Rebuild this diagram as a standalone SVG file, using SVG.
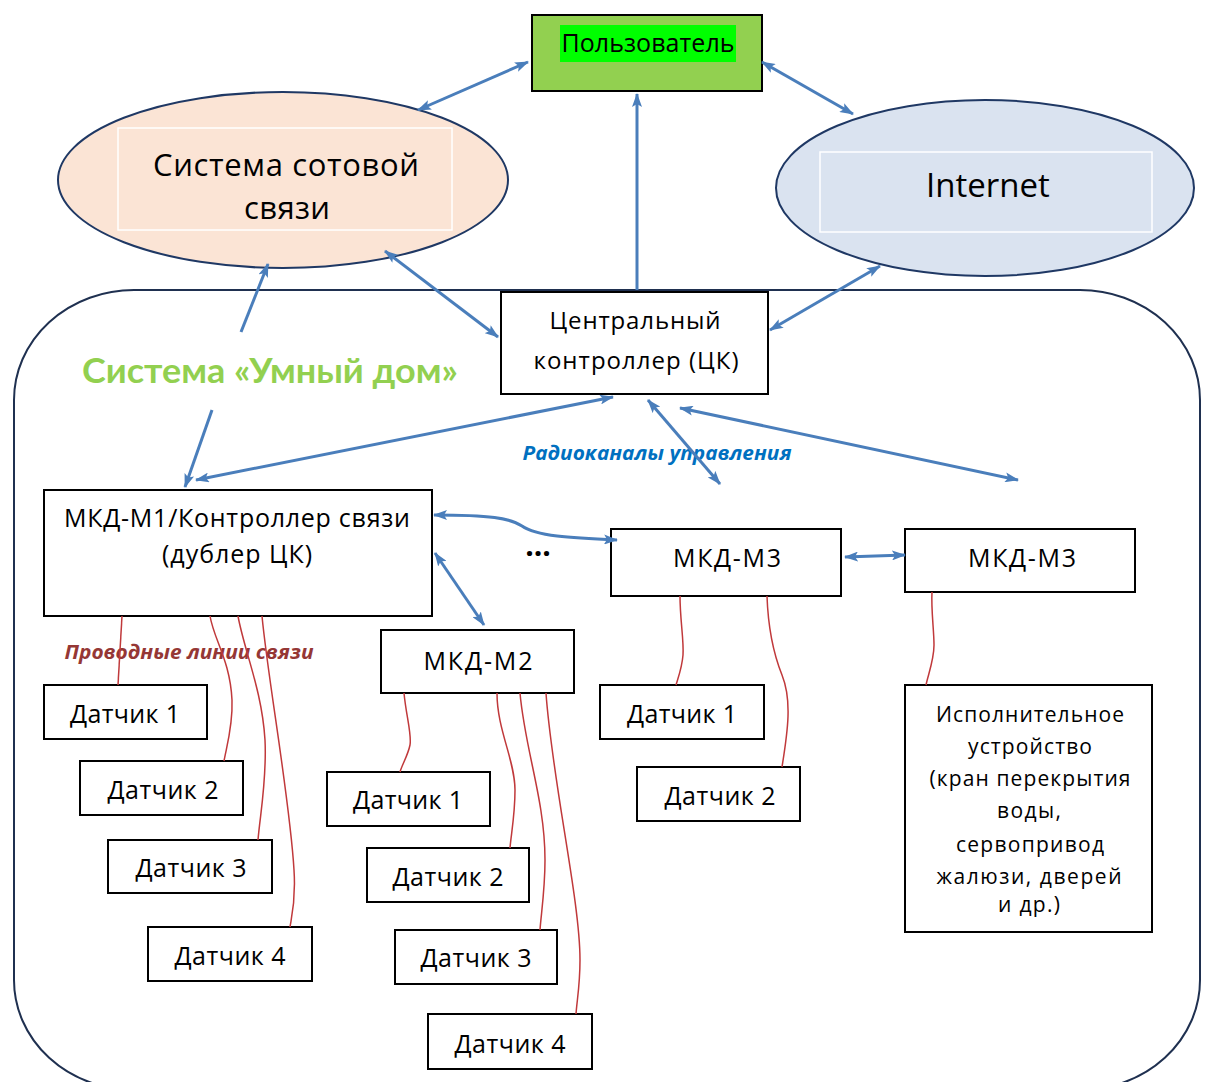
<svg xmlns="http://www.w3.org/2000/svg" width="1211" height="1082" viewBox="0 0 1211 1082">
  <style>
    .t { font-family: "Open Sans", "Noto Sans", "DejaVu Sans", sans-serif; fill: #000; text-anchor: middle; }
    .box { fill: #fff; stroke: #000; stroke-width: 2; }
    .link { fill: none; stroke: #4a7ebb; stroke-width: 3; }
    .wire { fill: none; stroke: #c0393b; stroke-width: 1.5; }
  </style>
  <defs>
    <marker id="ah" viewBox="0 0 14 10" refX="13" refY="5" markerWidth="14" markerHeight="10" markerUnits="userSpaceOnUse" orient="auto-start-reverse">
      <path d="M0,0 L14,5 L0,10 L3,5 Z" fill="#4a7ebb"/>
    </marker>
  </defs>

  <rect width="1211" height="1082" fill="#fff"/>

  <!-- outer boundary of the smart home system -->
  <g id="smart-home-area">
    <rect x="14" y="290" width="1186" height="800" rx="120" ry="110" fill="none" stroke="#1f3050" stroke-width="2"/>
  </g>

  <!-- user -->
  <g id="user">
    <rect x="532" y="15" width="230" height="76" fill="#92d050" stroke="#000" stroke-width="2"/>
    <rect x="560" y="25" width="176" height="37" fill="#00ff00"/>
    <text class="t" x="648" y="52" font-size="25" textLength="173" lengthAdjust="spacing">Пользователь</text>
  </g>

  <!-- cellular network -->
  <g id="cellular">
    <ellipse cx="283" cy="180" rx="225" ry="88" fill="#fbe4d5" stroke="#1f3864" stroke-width="2"/>
    <rect x="118" y="128" width="334" height="102" fill="none" stroke="#fff" stroke-width="1.5"/>
    <text class="t" x="286" y="176" font-size="31" textLength="266" lengthAdjust="spacing">Система сотовой</text>
    <text class="t" x="287" y="219" font-size="31" textLength="86" lengthAdjust="spacing">связи</text>
  </g>

  <!-- internet -->
  <g id="internet">
    <ellipse cx="985" cy="188" rx="209" ry="88" fill="#dae3f0" stroke="#1f3864" stroke-width="2"/>
    <rect x="820" y="152" width="332" height="80" fill="none" stroke="#fff" stroke-width="1.5"/>
    <text class="t" x="988" y="197" font-size="33">Internet</text>
  </g>

  <!-- central controller -->
  <g id="central-controller">
    <rect class="box" x="501" y="292" width="267" height="102"/>
    <text class="t" x="635" y="329" font-size="24" textLength="171" lengthAdjust="spacing">Центральный</text>
    <text class="t" x="636" y="369" font-size="24" textLength="205" lengthAdjust="spacing">контроллер (ЦК)</text>
  </g>

  <!-- system caption -->
  <g id="smart-home-label">
    <text x="270" y="383" font-family="Lato, 'Open Sans', sans-serif" font-weight="bold" font-size="34" fill="#92d050" text-anchor="middle" textLength="376" lengthAdjust="spacingAndGlyphs">Система «Умный дом»</text>
  </g>

  <g id="radio-label">
    <text x="657" y="460" font-family="'Open Sans', sans-serif" font-weight="bold" font-style="italic" font-size="20" fill="#0070c0" text-anchor="middle" textLength="269" lengthAdjust="spacingAndGlyphs">Радиоканалы управления</text>
  </g>

  <g id="wired-label">
    <text x="189" y="659" font-family="'Open Sans', sans-serif" font-weight="bold" font-style="italic" font-size="20" fill="#953735" text-anchor="middle" textLength="249" lengthAdjust="spacingAndGlyphs">Проводные линии связи</text>
  </g>

  <!-- module M1 / communication controller -->
  <g id="mkd-m1">
    <rect class="box" x="44" y="490" width="388" height="126"/>
    <text class="t" x="237" y="527" font-size="25" textLength="346" lengthAdjust="spacing">МКД-М1/Контроллер связи</text>
    <text class="t" x="237" y="563" font-size="25" textLength="150" lengthAdjust="spacing">(дублер ЦК)</text>
  </g>

  <g id="ellipsis">
    <text x="538" y="556" font-family="'Open Sans', sans-serif" font-weight="bold" font-size="30" fill="#000" text-anchor="middle">...</text>
  </g>

  <g id="mkd-m3-a">
    <rect class="box" x="611" y="529" width="230" height="67"/>
    <text class="t" x="727" y="567" font-size="25" textLength="108" lengthAdjust="spacing">МКД-М3</text>
  </g>

  <g id="mkd-m3-b">
    <rect class="box" x="905" y="529" width="230" height="63"/>
    <text class="t" x="1022" y="567" font-size="25" textLength="108" lengthAdjust="spacing">МКД-М3</text>
  </g>

  <g id="mkd-m2">
    <rect class="box" x="381" y="630" width="193" height="63"/>
    <text class="t" x="478" y="670" font-size="25" textLength="109" lengthAdjust="spacing">МКД-М2</text>
  </g>

  <!-- sensors of M1 -->
  <g id="m1-sensor-1"><rect class="box" x="44" y="685" width="163" height="54"/><text class="t" x="125" y="723" font-size="25" textLength="110" lengthAdjust="spacing">Датчик 1</text></g>
  <g id="m1-sensor-2"><rect class="box" x="80" y="761" width="163" height="54"/><text class="t" x="163" y="799" font-size="25" textLength="111" lengthAdjust="spacing">Датчик 2</text></g>
  <g id="m1-sensor-3"><rect class="box" x="108" y="840" width="164" height="53"/><text class="t" x="191" y="877" font-size="25" textLength="111" lengthAdjust="spacing">Датчик 3</text></g>
  <g id="m1-sensor-4"><rect class="box" x="148" y="927" width="164" height="54"/><text class="t" x="230" y="965" font-size="25" textLength="111" lengthAdjust="spacing">Датчик 4</text></g>

  <!-- sensors of M2 -->
  <g id="m2-sensor-1"><rect class="box" x="327" y="772" width="163" height="54"/><text class="t" x="408" y="809" font-size="25" textLength="110" lengthAdjust="spacing">Датчик 1</text></g>
  <g id="m2-sensor-2"><rect class="box" x="367" y="848" width="162" height="54"/><text class="t" x="448" y="886" font-size="25" textLength="111" lengthAdjust="spacing">Датчик 2</text></g>
  <g id="m2-sensor-3"><rect class="box" x="395" y="930" width="162" height="54"/><text class="t" x="476" y="967" font-size="25" textLength="111" lengthAdjust="spacing">Датчик 3</text></g>
  <g id="m2-sensor-4"><rect class="box" x="428" y="1014" width="164" height="55"/><text class="t" x="510" y="1053" font-size="25" textLength="111" lengthAdjust="spacing">Датчик 4</text></g>

  <!-- sensors of M3 -->
  <g id="m3-sensor-1"><rect class="box" x="600" y="685" width="164" height="54"/><text class="t" x="682" y="723" font-size="25" textLength="110" lengthAdjust="spacing">Датчик 1</text></g>
  <g id="m3-sensor-2"><rect class="box" x="637" y="767" width="163" height="54"/><text class="t" x="720" y="805" font-size="25" textLength="111" lengthAdjust="spacing">Датчик 2</text></g>

  <!-- actuator -->
  <g id="actuator">
    <rect class="box" x="905" y="685" width="247" height="247"/>
    <text class="t" x="1030" y="722" font-size="21" textLength="188" lengthAdjust="spacing">Исполнительное</text>
    <text class="t" x="1030" y="754" font-size="21" textLength="124" lengthAdjust="spacing">устройство</text>
    <text class="t" x="1030" y="786" font-size="21" textLength="201" lengthAdjust="spacing">(кран перекрытия</text>
    <text class="t" x="1029" y="818" font-size="21" textLength="64" lengthAdjust="spacing">воды,</text>
    <text class="t" x="1030" y="852" font-size="21" textLength="148" lengthAdjust="spacing">сервопривод</text>
    <text class="t" x="1029" y="884" font-size="21" textLength="185" lengthAdjust="spacing">жалюзи, дверей</text>
    <text class="t" x="1029" y="912" font-size="21" textLength="62" lengthAdjust="spacing">и др.)</text>
  </g>

  <!-- connectors -->
  <g id="connectors">
    <!-- radio / network links -->
    <line class="link" x1="418" y1="110" x2="528" y2="62" marker-start="url(#ah)" marker-end="url(#ah)"/>
    <line class="link" x1="762" y1="62" x2="853" y2="114" marker-start="url(#ah)" marker-end="url(#ah)"/>
    <line class="link" x1="637" y1="290" x2="637" y2="94" marker-end="url(#ah)"/>
    <line class="link" x1="385" y1="251" x2="498" y2="337" marker-start="url(#ah)" marker-end="url(#ah)"/>
    <line class="link" x1="880" y1="266" x2="770" y2="330" marker-start="url(#ah)" marker-end="url(#ah)"/>
    <line class="link" x1="241" y1="332" x2="268" y2="264" marker-end="url(#ah)"/>
    <line class="link" x1="212" y1="410" x2="185" y2="487" marker-end="url(#ah)"/>
    <line class="link" x1="613" y1="397" x2="196" y2="480" marker-start="url(#ah)" marker-end="url(#ah)"/>
    <line class="link" x1="648" y1="400" x2="720" y2="484" marker-start="url(#ah)" marker-end="url(#ah)"/>
    <line class="link" x1="680" y1="408" x2="1018" y2="480" marker-start="url(#ah)" marker-end="url(#ah)"/>
    <path class="link" d="M434,515 C490,515 510,518 522,526 C536,536 570,538 617,540" marker-start="url(#ah)" marker-end="url(#ah)"/>
    <line class="link" x1="435" y1="553" x2="484" y2="625" marker-start="url(#ah)" marker-end="url(#ah)"/>
    <line class="link" x1="845" y1="557" x2="905" y2="555" marker-start="url(#ah)" marker-end="url(#ah)"/>

    <!-- wired lines M1 -->
    <path class="wire" d="M122,616 L118,685"/>
    <path class="wire" d="M210,616 C214,640 230,660 232,700 C233,725 227,745 224,761"/>
    <path class="wire" d="M238,616 C244,650 262,690 265,740 C267,780 260,815 258,840"/>
    <path class="wire" d="M262,616 C268,680 290,800 294,870 C296,900 292,915 290,927"/>
    <!-- wired lines M2 -->
    <path class="wire" d="M404,693 C406,715 412,735 410,745 C408,755 402,765 400,772"/>
    <path class="wire" d="M497,693 C497,730 515,760 515,790 C515,815 511,835 510,848"/>
    <path class="wire" d="M520,693 C525,750 545,800 545,860 C545,890 541,915 540,930"/>
    <path class="wire" d="M546,693 C552,780 580,900 580,960 C580,985 577,1000 576,1014"/>
    <!-- wired lines M3 -->
    <path class="wire" d="M680,596 C680,620 684,640 683,655 C682,668 678,678 676,685"/>
    <path class="wire" d="M767,596 C768,625 772,650 782,675 C792,700 788,730 782,767"/>
    <path class="wire" d="M932,592 C931,610 934,630 934,645 C934,660 928,675 926,685"/>
  </g>
</svg>
